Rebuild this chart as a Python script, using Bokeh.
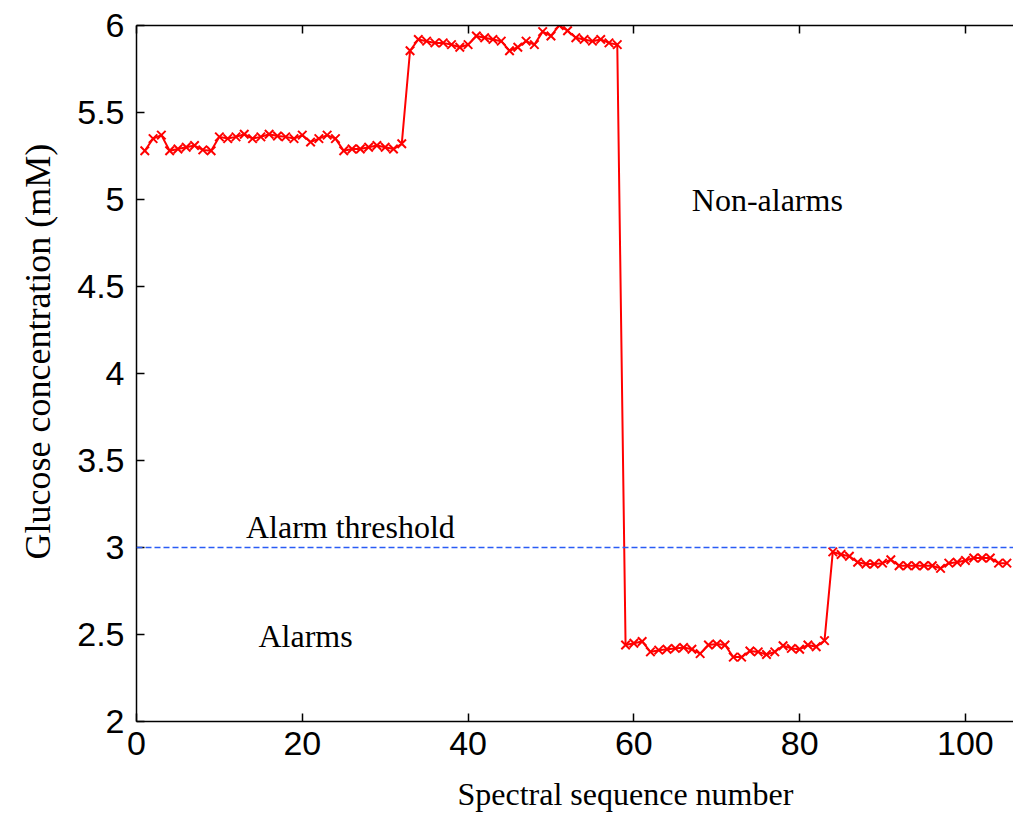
from bokeh.plotting import figure
from bokeh.models import (Range1d, LinearAxis, FixedTicker, NumeralTickFormatter,
                          ColumnDataSource, Span, Title)
from bokeh.core.properties import value
from bokeh.embed import file_html
from bokeh.resources import INLINE

# Glucose estimate for each spectrum, in sequence order
seq_number = list(range(1, 106))
glucose_mM = [
    # spectra 1-32
    5.28, 5.35, 5.37, 5.28, 5.29, 5.30, 5.31, 5.285, 5.28, 5.36,
    5.35, 5.36, 5.375, 5.35, 5.36, 5.375, 5.365, 5.36, 5.35, 5.37,
    5.33, 5.35, 5.37, 5.35, 5.28, 5.29, 5.29, 5.30, 5.31, 5.30,
    5.29, 5.32,
    # spectra 33-58
    5.855, 5.92, 5.91, 5.90, 5.90, 5.89, 5.875, 5.89, 5.94, 5.93,
    5.92, 5.91, 5.855, 5.875, 5.91, 5.89, 5.965, 5.94, 6.0, 5.97,
    5.93, 5.92, 5.91, 5.92, 5.90, 5.89,
    # spectra 59-83
    2.44, 2.45, 2.46, 2.40, 2.41, 2.415, 2.42, 2.425, 2.415, 2.39,
    2.44, 2.445, 2.44, 2.37, 2.37, 2.405, 2.40, 2.385, 2.40, 2.435,
    2.42, 2.415, 2.44, 2.43, 2.465,
    # spectra 84-105
    2.975, 2.96, 2.95, 2.915, 2.905, 2.905, 2.91, 2.93, 2.895, 2.895,
    2.895, 2.895, 2.895, 2.88, 2.91, 2.915, 2.925, 2.94, 2.94, 2.94,
    2.91, 2.91,
]

alarm_threshold = 3.0
x_ticks = [0, 20, 40, 60, 80, 100]
y_ticks = [2, 2.5, 3, 3.5, 4, 4.5, 5, 5.5, 6]

annotations = ["Non-alarms", "Alarm threshold", "Alarms"]
annot_x = [76.1, 25.8, 20.4]
annot_y = [5.0, 3.12, 2.49]

x_title = "Spectral sequence number"
y_title = "Glucose concentration (mM)"

src = ColumnDataSource(dict(x=seq_number, y=glucose_mM))

p = figure(width=1013, height=827,
           x_range=Range1d(0, 105.8), y_range=Range1d(2, 6),
           output_backend="svg", toolbar_location=None,
           min_border_left=136, min_border_right=0,
           min_border_top=25, min_border_bottom=106)
p.outline_line_color = None
p.background_fill_color = "white"
p.border_fill_color = "white"
p.xgrid.visible = False
p.ygrid.visible = False

tick_font = "Liberation Sans"
serif = "Liberation Serif"

for ax in (p.xaxis[0], p.yaxis[0]):
    ax.major_tick_in = 8
    ax.major_tick_out = 0
    ax.minor_tick_line_color = None
    ax.axis_line_width = 1.5
    ax.major_tick_line_width = 1.5
    ax.axis_line_color = "black"
    ax.major_tick_line_color = "black"
    ax.major_label_text_font = tick_font
    ax.major_label_text_font_size = "34px"
    ax.major_label_text_color = "black"

p.xaxis[0].ticker = FixedTicker(ticks=x_ticks)
p.xaxis[0].formatter = NumeralTickFormatter(format="0")
p.xaxis[0].major_label_standoff = 10

p.yaxis[0].ticker = FixedTicker(ticks=y_ticks)
p.yaxis[0].formatter = NumeralTickFormatter(format="0.[0]")
p.yaxis[0].major_label_standoff = 12

# top frame edge with inward ticks
top = LinearAxis(ticker=FixedTicker(ticks=x_ticks),
                 major_tick_in=8, major_tick_out=0,
                 minor_tick_line_color=None,
                 axis_line_width=1.5, major_tick_line_width=1.5,
                 major_label_text_font_size="1px",
                 major_label_text_color=None,
                 major_label_standoff=0)
p.add_layout(top, "above")

# axis titles
p.add_layout(Title(text=x_title, align="left", offset=321, standoff=32,
                   text_font=serif, text_font_size="32px",
                   text_font_style="normal", text_color="black"), "below")
p.add_layout(Title(text=y_title, align="left", offset=162, standoff=30,
                   vertical_align="top",
                   text_font=serif, text_font_size="36px",
                   text_font_style="normal", text_color="black"), "left")

# alarm threshold
p.add_layout(Span(location=alarm_threshold, dimension="width",
                  line_color="#2a5cf5", line_width=1.5, line_dash="6 3"))

# glucose trace
p.line("x", "y", source=src, line_color="red", line_width=2)
p.scatter("x", "y", source=src, marker="x", size=12,
          line_color="red", line_width=2)

p.text(x=annot_x, y=annot_y, text=annotations,
       text_font=value(serif), text_font_size="32px",
       text_align="center", text_baseline="middle", text_color="black")

open("out.html", "w").write(file_html(p, INLINE))
